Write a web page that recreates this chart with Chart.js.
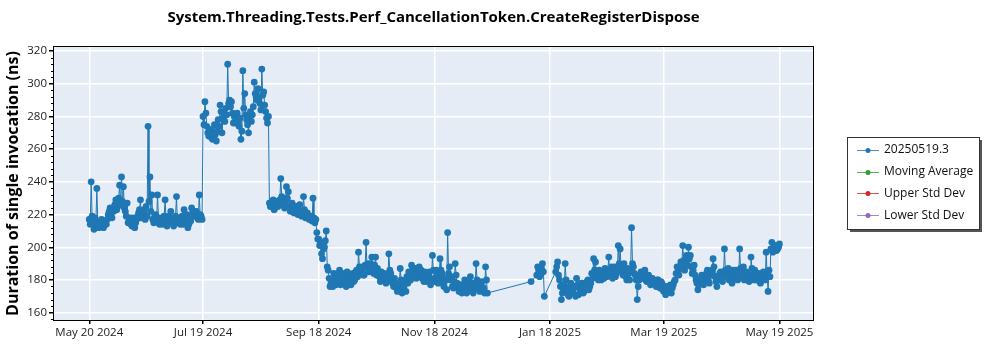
<!DOCTYPE html>
<html>
<head>
<meta charset="utf-8">
<script src="https://cdn.jsdelivr.net/npm/chart.js@4.4.1/dist/chart.umd.min.js"></script>
<style>
  body { margin: 0; background: #fff; }
  #wrap { width: 1000px; height: 350px; position: relative; }
</style>
</head>
<body>
<div id="wrap"><canvas id="perfChart" width="1000" height="350"></canvas></div>
<script>
const chartTitle = 'System.Threading.Tests.Perf_CancellationToken.CreateRegisterDispose';
const yAxisTitle = 'Duration of single invocation (ns)';
const seriesNames = ['20250519.3', 'Moving Average', 'Upper Std Dev', 'Lower Std Dev'];
const seriesColors = ['#1f77b4', '#2ca02c', '#d62728', '#9467bd'];
const tickDates = ['2024-05-20', '2024-07-19', '2024-09-18', '2024-11-18', '2025-01-18', '2025-03-19', '2025-05-19'];
const tickLabels = ['May 20 2024', 'Jul 19 2024', 'Sep 18 2024', 'Nov 18 2024', 'Jan 18 2025', 'Mar 19 2025', 'May 19 2025'];
const yTicks = [160, 180, 200, 220, 240, 260, 280, 300, 320];

// two runs per day: first value in the morning, second in the afternoon (ns)
const startMayJul = '2024-05-20';
const valuesMayJul = [217, 240, 214, 218, 236, 212, 215, 213, 216, 214, 220, 224, 218, 222, 229, 225, 238, 243, 237, 222,
  227, 216, 214, 218, 212, 217, 221, 229, 219, 223, 225, 274, 243, 232, 215, 220, 232, 214, 218, 216,
  229, 213, 219, 222, 215, 217, 231, 216, 214, 219, 223, 215, 212, 217, 224, 222, 220, 218, 232, 219];
const laterMayJul = [214, 219, 211, 216, 215, 213, 217, 212, 214, 217, 222, 219, 224, 226, 223, 230, 226, 228, 224, 219,
  215, 218, 213, 216, 215, 219, 223, 218, 221, 217, 219, 228, 222, 217, 219, 216, 218, 216, 214, 219,
  217, 215, 216, 218, 213, 219, 215, 218, 216, 214, 217, 220, 214, 216, 221, 219, 222, 217, 220, 217];
const startJulAug = '2024-07-19';
const valuesJulAug = [280, 289, 274, 268, 272, 266, 275, 265, 278, 287, 270, 282, 285, 312, 290, 289, 276, 280, 282, 274,
  266, 308, 294, 278, 270, 283, 281, 301, 292, 297, 288, 309, 295, 283, 276];
const laterJulAug = [275, 282, 270, 272, 267, 270, 269, 271, 274, 283, 279, 277, 281, 288, 286, 282, 280, 276, 278, 279,
  271, 285, 281, 275, 280, 277, 286, 294, 290, 291, 284, 293, 287, 279, 280];
const startAugSep = '2024-08-23';
const valuesAugSep = [227, 225, 229, 224, 228, 226, 242, 230, 224, 237, 234, 222, 227, 221, 225, 220, 226, 219, 231, 218,
  221, 217, 219, 230, 215, 209, 205, 203, 193, 200, 210, 186, 176];
const laterAugSep = [225, 228, 223, 227, 225, 229, 231, 226, 228, 230, 225, 224, 222, 225, 223, 221, 222, 220, 223, 219,
  218, 219, 216, 218, 217, 205, 201, 196, 199, 204, 188, 181, 178];
const startSepDec = '2024-09-25';
const valuesSepDec = [180, 184, 177, 182, 186, 179, 183, 178, 185, 181, 177, 184, 180, 186, 197, 185, 188, 183, 203, 190,
  186, 194, 184, 194, 187, 182, 185, 180, 183, 179, 196, 184, 178, 181, 175, 174, 187, 172, 176, 173,
  178, 182, 189, 185, 187, 184, 188, 186, 182, 185, 179, 183, 177, 195, 181, 186, 178, 193, 184, 176,
  180, 209, 188, 182, 175, 190, 178, 173, 177, 174, 180, 172, 176, 182, 174, 178, 190, 176, 173, 179,
  175, 188, 172];
const laterSepDec = [176, 181, 183, 179, 177, 184, 180, 176, 182, 178, 183, 179, 185, 182, 188, 186, 183, 189, 187, 185,
  190, 186, 189, 183, 185, 179, 182, 184, 178, 181, 186, 180, 176, 178, 173, 177, 180, 175, 179, 182,
  185, 180, 186, 183, 181, 186, 183, 181, 179, 184, 181, 185, 180, 186, 179, 183, 181, 186, 178, 181,
  174, 184, 180, 176, 179, 183, 175, 177, 172, 176, 178, 174, 179, 177, 172, 175, 180, 174, 178, 175,
  172, 180];
const startEarlyJan = '2025-01-08';
const valuesEarlyJan = [179];
const laterEarlyJan = [];
const startMidJan = '2025-01-11';
const valuesMidJan = [183, 186, 184, 190, 170];
const laterMidJan = [188, 182, 187, 185];
const startJanMay = '2025-01-21';
const valuesJanMay = [185, 191, 180, 168, 177, 190, 175, 170, 178, 172, 176, 181, 171, 174, 178, 173, 177, 180, 176, 184,
  193, 191, 182, 186, 180, 184, 187, 182, 194, 186, 181, 188, 184, 201, 199, 185, 190, 182, 187, 180,
  212, 188, 183, 168, 180, 185, 182, 186, 179, 183, 177, 181, 179, 176, 180, 175, 178, 173, 171, 176,
  174, 172, 177, 180, 188, 183, 191, 201, 186, 195, 200, 195, 184, 189, 180, 174, 179, 183, 177, 181,
  186, 178, 184, 193, 182, 176, 180, 185, 179, 199, 184, 187, 181, 178, 183, 186, 180, 199, 185, 188,
  182, 184, 179, 194, 183, 186, 180, 184, 178, 183, 181, 197, 173, 182, 203, 198, 201, 199, 202];
const laterJanMay = [188, 183, 176, 172, 174, 180, 171, 176, 173, 175, 170, 177, 175, 178, 172, 176, 179, 174, 178, 181,
  186, 184, 180, 183, 185, 181, 184, 186, 183, 188, 184, 182, 186, 190, 187, 183, 186, 180, 184, 186,
  190, 184, 180, 176, 183, 181, 184, 180, 182, 179, 181, 178, 177, 180, 177, 179, 174, 176, 174, 173,
  177, 175, 179, 184, 185, 187, 189, 192, 190, 189, 193, 188, 186, 183, 178, 177, 181, 179, 182, 184,
  180, 183, 186, 188, 179, 182, 184, 181, 183, 186, 182, 180, 184, 186, 181, 184, 182, 187, 183, 180,
  185, 181, 183, 187, 180, 184, 182, 179, 182, 185, 180, 184, 186, 199, 197, 201, 198, 200];

const runs = [
  [startMayJul, valuesMayJul, laterMayJul], [startJulAug, valuesJulAug, laterJulAug],
  [startAugSep, valuesAugSep, laterAugSep], [startSepDec, valuesSepDec, laterSepDec],
  [startEarlyJan, valuesEarlyJan, laterEarlyJan], [startMidJan, valuesMidJan, laterMidJan],
  [startJanMay, valuesJanMay, laterJanMay]
];

const DAY = 86400000;
const origin = Date.parse(tickDates[0]);
function dayOf(iso) { return (Date.parse(iso) - origin) / DAY; }

const points = [];
runs.forEach(([start, early, later]) => {
  const d0 = dayOf(start);
  early.forEach((v, i) => points.push({ x: d0 + i, y: v }));
  later.forEach((v, i) => points.push({ x: d0 + i + 0.5, y: v }));
});
points.sort((a, b) => a.x - b.x);

const FONT = '"Open Sans", "Noto Sans", sans-serif';

const plotDecor = {
  id: 'plotDecor',
  beforeDraw(chart) {
    const { ctx, chartArea: a } = chart;
    ctx.save();
    ctx.fillStyle = '#e5ecf6';
    ctx.fillRect(a.left, a.top, a.right - a.left, a.bottom - a.top);
    ctx.restore();
  },
  afterDraw(chart) {
    const { ctx, chartArea: a } = chart;
    const y = chart.scales.y;
    ctx.save();
    // frame
    ctx.strokeStyle = '#000';
    ctx.lineWidth = 1;
    ctx.strokeRect(a.left - 0.5, a.top - 0.5, a.right - a.left + 1, a.bottom - a.top + 1);
    // minor ticks on y
    ctx.beginPath();
    for (let v = 156; v <= 322; v += 4) {
      if (v % 20 === 0) continue;
      const py = Math.round(y.getPixelForValue(v)) + 0.5;
      ctx.moveTo(a.left - 3, py);
      ctx.lineTo(a.left, py);
    }
    ctx.stroke();

    // title
    ctx.fillStyle = '#000';
    ctx.font = 'bold 15px ' + FONT;
    ctx.textAlign = 'center';
    ctx.textBaseline = 'middle';
    ctx.fillText(chartTitle, (a.left + a.right) / 2, 18);

    // y axis title
    ctx.save();
    ctx.translate(13, (a.top + a.bottom) / 2);
    ctx.rotate(-Math.PI / 2);
    ctx.font = 'bold 16px ' + FONT;
    ctx.fillText(yAxisTitle, 0, 0);
    ctx.restore();

    // legend box
    const bx = 847, by = 137, bw = 132, bh = 92;
    ctx.fillStyle = '#555';
    ctx.fillRect(bx + 3, by + 3, bw, bh);
    ctx.fillStyle = '#fff';
    ctx.fillRect(bx, by, bw, bh);
    ctx.strokeStyle = '#333';
    ctx.strokeRect(bx + 0.5, by + 0.5, bw, bh);
    ctx.font = '12px ' + FONT;
    ctx.textAlign = 'left';
    seriesNames.forEach((name, i) => {
      const ry = 150 + i * 21.7;
      ctx.strokeStyle = seriesColors[i];
      ctx.globalAlpha = 0.8;
      ctx.beginPath();
      ctx.moveTo(857, Math.round(ry) + 0.5);
      ctx.lineTo(879, Math.round(ry) + 0.5);
      ctx.stroke();
      ctx.globalAlpha = 1;
      ctx.fillStyle = seriesColors[i];
      ctx.beginPath();
      ctx.arc(868, Math.round(ry) + 0.5, 2.5, 0, Math.PI * 2);
      ctx.fill();
      ctx.fillStyle = '#111';
      ctx.fillText(name, 884, ry);
    });
    ctx.restore();
  }
};

const ctx = document.getElementById('perfChart').getContext('2d');
const perfChart = new Chart(ctx, {
  type: 'line',
  data: {
    datasets: seriesNames.map((name, i) => ({
      label: name,
      data: i === 0 ? points : [],
      borderColor: seriesColors[i],
      backgroundColor: seriesColors[i],
      borderWidth: 1,
      pointRadius: 3.4,
      pointBorderWidth: 0,
      pointHoverRadius: 3.4,
      tension: 0
    }))
  },
  options: {
    responsive: false,
    animation: false,
    devicePixelRatio: 1,
    layout: { padding: { top: 47, right: 187, left: 0, bottom: 0 } },
    plugins: {
      legend: { display: false },
      title: { display: false },
      tooltip: { enabled: false }
    },
    scales: {
      x: {
        type: 'linear',
        min: -18.6,
        max: 381.7,
        afterFit(s) { s.height = 30; },
        afterBuildTicks(s) { s.ticks = tickDates.map(d => ({ value: dayOf(d) })); },
        ticks: {
          color: '#222',
          font: { family: FONT, size: 11.5 },
          maxRotation: 0,
          autoSkip: false,
          padding: 2,
          callback(v) {
            const i = tickDates.findIndex(d => dayOf(d) === v);
            return i >= 0 ? tickLabels[i] : '';
          }
        },
        grid: { color: '#ffffff', lineWidth: 1.5, tickColor: '#000', tickLength: 4 },
        border: { display: false }
      },
      y: {
        min: 155.5,
        max: 322.5,
        afterFit(s) { s.width = 54; },
        afterBuildTicks(s) { s.ticks = yTicks.map(v => ({ value: v })); },
        ticks: { color: '#222', font: { family: FONT, size: 11.5 }, padding: 2 },
        grid: { color: '#ffffff', lineWidth: 1.5, tickColor: '#000', tickLength: 5 },
        border: { display: false }
      }
    }
  },
  plugins: [plotDecor]
});
</script>
</body>
</html>
